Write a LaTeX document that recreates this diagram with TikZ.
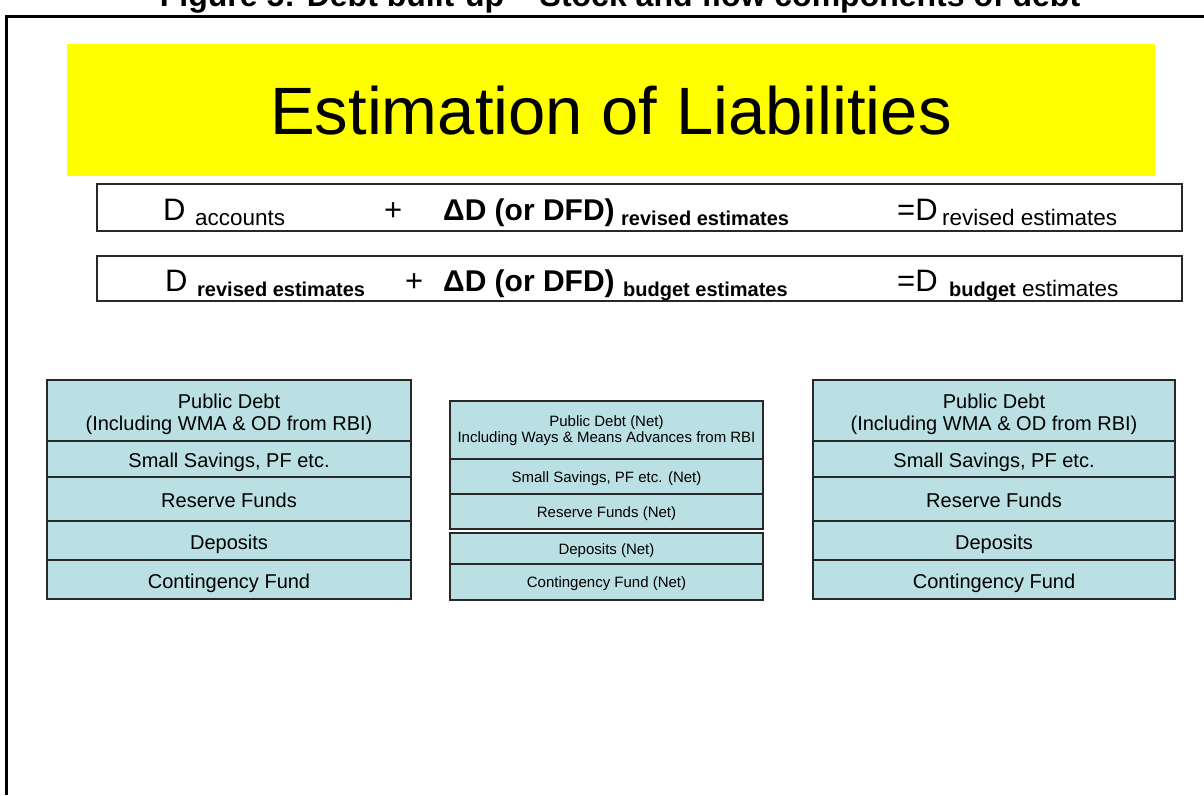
\documentclass[tikz,border=0pt]{standalone}
\usepackage{fontspec}
\setmainfont{Liberation Sans}
\definecolor{cellfill}{RGB}{187,224,227}
\definecolor{edge}{RGB}{40,40,40}
\definecolor{banneryellow}{RGB}{255,255,0}
\begin{document}
\begin{tikzpicture}[x=1pt,y=-1pt,
  cell/.style={draw=edge, line width=1.2pt, fill=cellfill, inner sep=0pt, align=center,
    font=\fontsize{20}{23}\selectfont, text height=17pt, text depth=0pt},
  mcell/.style={cell, font=\fontsize{15}{16}\selectfont, text height=11pt, text depth=0pt},
  cellbox/.style={draw=edge, line width=1.2pt, fill=cellfill, inner sep=0pt},
  twoline/.style={inner sep=0pt, align=center, font=\fontsize{20}{22}\selectfont},
  mtwoline/.style={inner sep=0pt, align=center, font=\fontsize{15}{16}\selectfont},
  eqbox/.style={draw=edge, line width=1.2pt, inner sep=0pt},
  big/.style={anchor=base west, inner sep=0pt, font=\fontsize{31}{34}\selectfont},
  bigb/.style={anchor=base west, inner sep=0pt, font=\bfseries\fontsize{30}{33}\selectfont},
  sub/.style={anchor=base west, inner sep=0pt, font=\fontsize{22.5}{24}\selectfont},
  subb/.style={anchor=base west, inner sep=0pt, font=\bfseries\fontsize{20}{22}\selectfont},
]
\useasboundingbox (0,0) rectangle (1204,795);

% caption above the frame
\node[anchor=base, inner sep=0pt, font=\bfseries\fontsize{32}{34}\selectfont] (caption) at (620,6)
  {Figure 5: Debt built-up -- Stock and flow components of debt};

% frame
\draw[line width=3pt] (6,795) -- (6,16) -- (1210,16);

% yellow banner
\node[fill=banneryellow, inner sep=0pt, minimum width=1088pt, minimum height=132pt] (banner) at (611,110) {};
\node[anchor=base, inner sep=0pt, font=\fontsize{67}{70}\selectfont] (head) at (611,134) {Estimation of Liabilities};

% equation boxes
\node[eqbox, minimum width=1085pt, minimum height=47pt] (eq1) at (639.5,207.5) {};
\node[eqbox, minimum width=1085pt, minimum height=45pt] (eq2) at (639.5,278.5) {};

\node[big]  (a1) at (163,220) {D};
\node[sub]  (a2) at (195,225) {accounts};
\node[big]  (a3) at (384,220) {+};
\node[bigb] (a4) at (443,220) {ΔD (or DFD)};
\node[subb] (a5) at (621,225) {revised estimates};
\node[big]  (a6) at (897,220) {=D};
\node[sub]  (a7) at (942,225) {revised estimates};

\node[big]  (b1) at (165,291) {D};
\node[subb] (b2) at (197,296) {revised estimates};
\node[big]  (b3) at (405,291) {+};
\node[bigb] (b4) at (443,291) {ΔD (or DFD)};
\node[subb] (b5) at (623,296) {budget estimates};
\node[big]  (b6) at (897,291) {=D};
\node[sub]  (b7) at (949,296) {{\bfseries\fontsize{20}{22}\selectfont budget} estimates};

% stock at the start
\node[cellbox, minimum width=364pt, minimum height=61pt] (l1) at (229,410.5) {};
\node[twoline] (l1t) at ([yshift=-4pt]l1.center) {Public Debt\\(Including WMA \& OD from RBI)};
\node[cell, minimum width=364pt, minimum height=36pt] (l2) at (229,459) {Small Savings, PF etc.};
\node[cell, minimum width=364pt, minimum height=44pt] (l3) at (229,499) {Reserve Funds};
\node[cell, minimum width=364pt, minimum height=39pt] (l4) at (229,540.5) {Deposits};
\node[cell, minimum width=364pt, minimum height=39pt] (l5) at (229,579.5) {Contingency Fund};

% net flows
\node[cellbox, minimum width=313pt, minimum height=58pt] (m1) at (606.5,430) {};
\node[mtwoline] (m1t) at ([yshift=-1pt]m1.center) {Public Debt (Net)\\Including Ways \& Means Advances from RBI};
\node[mcell, minimum width=313pt, minimum height=35pt] (m2) at (606.5,476.5) {Small Savings, PF etc. (Net)};
\node[mcell, minimum width=313pt, minimum height=35pt] (m3) at (606.5,511.5) {Reserve Funds (Net)};
\node[mcell, minimum width=313pt, minimum height=31pt] (m4) at (606.5,548.5) {Deposits (Net)};
\node[mcell, minimum width=313pt, minimum height=36pt] (m5) at (606.5,582) {Contingency Fund (Net)};

% stock at the end
\node[cellbox, minimum width=362pt, minimum height=61pt] (r1) at (994,410.5) {};
\node[twoline] (r1t) at ([yshift=-4pt]r1.center) {Public Debt\\(Including WMA \& OD from RBI)};
\node[cell, minimum width=362pt, minimum height=36pt] (r2) at (994,459) {Small Savings, PF etc.};
\node[cell, minimum width=362pt, minimum height=44pt] (r3) at (994,499) {Reserve Funds};
\node[cell, minimum width=362pt, minimum height=39pt] (r4) at (994,540.5) {Deposits};
\node[cell, minimum width=362pt, minimum height=39pt] (r5) at (994,579.5) {Contingency Fund};
\end{tikzpicture}
\end{document}
